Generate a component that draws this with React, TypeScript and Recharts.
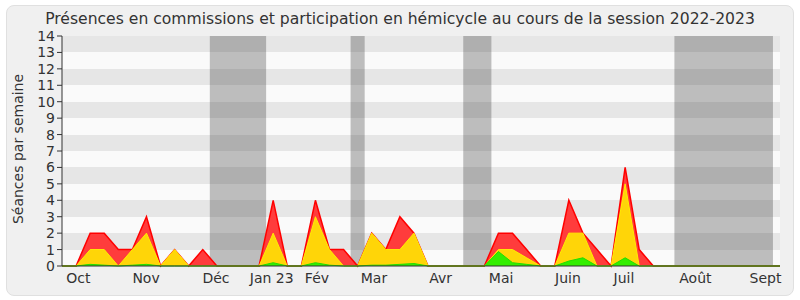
import React from "react";
import {
  ComposedChart,
  Area,
  XAxis,
  YAxis,
  CartesianGrid,
  ReferenceArea,
} from "recharts";

// weekly values, session 2022-2023 (week 0 = end of Sept)
const commissions = [0, 0, 2, 2, 1, 1, 3, 0, 1, 0, 1, 0, 0, 0, 0, 4, 0, 0, 4, 1, 1, 0, 2, 1, 3, 2, 0, 0, 0, 0, 0, 2, 2, 1, 0, 0, 4, 2, 1, 0, 6, 1, 0, 0, 0, 0, 0, 0, 0, 0, 0, 0];
const hemicycle = [0, 0, 1, 1, 0, 1, 2, 0, 1, 0, 0, 0, 0, 0, 0, 2, 0, 0, 3, 1, 0, 0, 2, 1, 1, 2, 0, 0, 0, 0, 0, 1, 1, 0.5, 0, 0, 2, 2, 0, 0, 5, 0, 0, 0, 0, 0, 0, 0, 0, 0, 0, 0];
const interventions = [0, 0, 0.1, 0.05, 0, 0.05, 0.1, 0, 0, 0, 0, 0, 0, 0, 0, 0.2, 0, 0, 0.2, 0.05, 0, 0, 0.05, 0.05, 0.1, 0.15, 0, 0, 0, 0, 0, 0.88, 0.2, 0.1, 0, 0, 0.3, 0.5, 0, 0, 0.5, 0, 0, 0, 0, 0, 0, 0, 0, 0, 0, 0];

const monthLabels = ["Oct", "Nov", "Déc", "Jan 23", "Fév", "Mar", "Avr", "Mai", "Juin", "Juil", "Août", "Sept"];
const monthPos = [1.16, 5.97, 10.94, 14.9, 18.11, 22.16, 26.89, 31.19, 35.94, 39.92, 44.99, 49.97];

const vacStart = [10.5, 20.5, 28.5, 43.5];
const vacEnd = [14.5, 21.5, 30.5, 50.5];

const yTicks = [0, 1, 2, 3, 4, 5, 6, 7, 8, 9, 10, 11, 12, 13, 14];

const data = commissions.map((c, i) => ({
  week: i,
  commissions: c,
  hemicycle: hemicycle[i],
  interventions: interventions[i],
}));
const weekTicks = data.map((d) => d.week);

const App = () => {
  return (
    <div
      style={{
        position: "absolute",
        left: 0,
        top: 0,
        width: 800,
        height: 300,
        background: "#fff",
        fontFamily: "DejaVu Sans",
      }}
    >
      <div
        style={{
          position: "absolute",
          left: 6,
          top: 5,
          width: 786,
          height: 289,
          background: "#f0f0f0",
          border: "1px solid #e0e0e0",
          borderRadius: 8,
        }}
      />
      <div style={{ position: "absolute", left: 0, top: 0 }}>
        <ComposedChart
          width={800}
          height={300}
          data={data}
          margin={{ top: 36, right: 20, bottom: 3, left: 12 }}
        >
          <CartesianGrid
            vertical={false}
            stroke="none"
            horizontalFill={["#e6e6e6", "#fafafa"]}
          />
          <XAxis
            dataKey="week"
            type="number"
            domain={[0, 51]}
            ticks={weekTicks}
            interval={0}
            height={6}
            tick={false}
            tickSize={5}
            stroke="#333"
          />
          <XAxis
            xAxisId="m"
            dataKey="week"
            type="number"
            domain={[0, 51]}
            ticks={monthPos}
            interval={0}
            height={25}
            tickLine={false}
            axisLine={false}
            tickSize={0}
            tickMargin={1}
            tickFormatter={(v: number) => monthLabels[monthPos.indexOf(v)]}
            tick={{ fontSize: 14, fill: "#333" }}
          />
          <XAxis
            xAxisId="t"
            orientation="top"
            dataKey="week"
            type="number"
            domain={[0, 51]}
            ticks={weekTicks}
            interval={0}
            height={0}
            tick={false}
            axisLine={false}
            tickSize={2}
            stroke="#333"
          />
          <YAxis
            type="number"
            domain={[0, 14]}
            ticks={yTicks}
            interval={0}
            width={50}
            tickSize={5}
            tickMargin={2}
            stroke="#333"
            tick={{ fontSize: 14, fill: "#333" }}
          />
          {vacStart.map((s, i) => (
            <ReferenceArea
              key={i}
              x1={s}
              x2={vacEnd[i]}
              y1={0}
              y2={14}
              fill="rgb(50,50,50)"
              fillOpacity={0.3}
              stroke="none"
            />
          ))}
          <Area
            type="linear"
            dataKey="commissions"
            stroke="#ff0000"
            strokeWidth={1.5}
            fill="#ff3c3c"
            fillOpacity={1}
            dot={false}
            activeDot={false}
            isAnimationActive={false}
          />
          <Area
            type="linear"
            dataKey="hemicycle"
            stroke="#ffee00"
            strokeWidth={1}
            fill="#ffd508"
            fillOpacity={1}
            dot={false}
            activeDot={false}
            isAnimationActive={false}
          />
          <Area
            type="linear"
            dataKey="interventions"
            stroke="#22dd00"
            strokeWidth={1}
            fill="#33ee00"
            fillOpacity={1}
            dot={false}
            activeDot={false}
            isAnimationActive={false}
          />
        </ComposedChart>
      </div>
      <svg
        width={800}
        height={300}
        style={{ position: "absolute", left: 0, top: 0, pointerEvents: "none" }}
      >
        <text x={400} y={24} textAnchor="middle" fontSize={15.6} fill="#333">
          Présences en commissions et participation en hémicycle au cours de la session 2022-2023
        </text>
        <text
          x={0}
          y={0}
          transform="translate(23,149) rotate(-90)"
          textAnchor="middle"
          fontSize={14}
          fill="#333"
        >
          Séances par semaine
        </text>
      </svg>
    </div>
  );
};

export default App;
